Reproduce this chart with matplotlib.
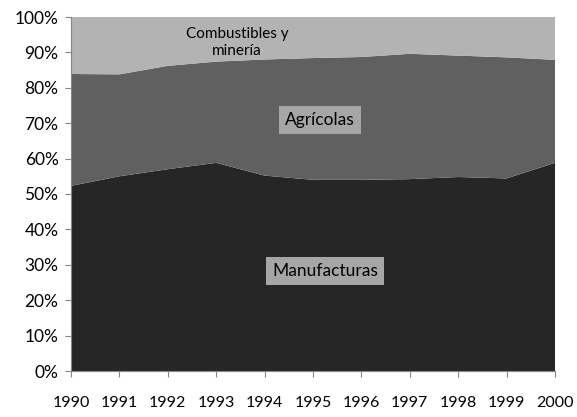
import matplotlib.pyplot as plt
import numpy as np
from matplotlib.ticker import PercentFormatter

# Data (shares of exports, %)
years = [1990, 1991, 1992, 1993, 1994, 1995, 1996, 1997, 1998, 1999, 2000]
manufacturas = [52.3, 55.0, 57.0, 58.8, 55.2, 54.0, 54.0, 54.2, 54.8, 54.4, 58.8]
agricolas_top = [83.9, 83.8, 86.2, 87.4, 88.0, 88.4, 88.7, 89.6, 89.1, 88.6, 87.9]
agricolas = [t - m for t, m in zip(agricolas_top, manufacturas)]
combustibles = [100 - t for t in agricolas_top]

series_names = ["Manufacturas", "Agrícolas", "Combustibles y\nminería"]
colors = ["#262626", "#606060", "#b3b3b3"]

plt.rcParams['font.family'] = ['Lato', 'DejaVu Sans']

fig = plt.figure(figsize=(5.77, 4.17), dpi=100)
ax = fig.add_axes([71 / 577, 1 - 371 / 417, 484 / 577, 354 / 417])

ax.stackplot(years, manufacturas, agricolas, combustibles, colors=colors, linewidth=0)

ax.set_xlim(years[0], years[-1])
ax.set_ylim(0, 100)
ax.set_xticks(years)
ax.set_yticks(np.arange(0, 101, 10))
ax.yaxis.set_major_formatter(PercentFormatter(decimals=0))
ax.tick_params(axis='both', colors='#868686', labelcolor='black', length=4)
ax.tick_params(axis='x', pad=14, labelsize=11.5)
ax.tick_params(axis='y', pad=5, labelsize=12.5)
for side in ['top', 'right']:
    ax.spines[side].set_visible(False)
for side in ['left', 'bottom']:
    ax.spines[side].set_color('#868686')

# Series labels
box = dict(boxstyle='square,pad=0.35', facecolor='#a6a6a6', edgecolor='none')
ax.text(1995.25, 28.2, series_names[0], ha='center', va='center', fontsize=12.5, bbox=box)
ax.text(1995.14, 70.9, series_names[1], ha='center', va='center', fontsize=12.5, bbox=box)
ax.text(1993.43, 92.8, series_names[2], ha='center', va='center', fontsize=11,
        linespacing=1.25)

fig.savefig("out.png", dpi=100)
